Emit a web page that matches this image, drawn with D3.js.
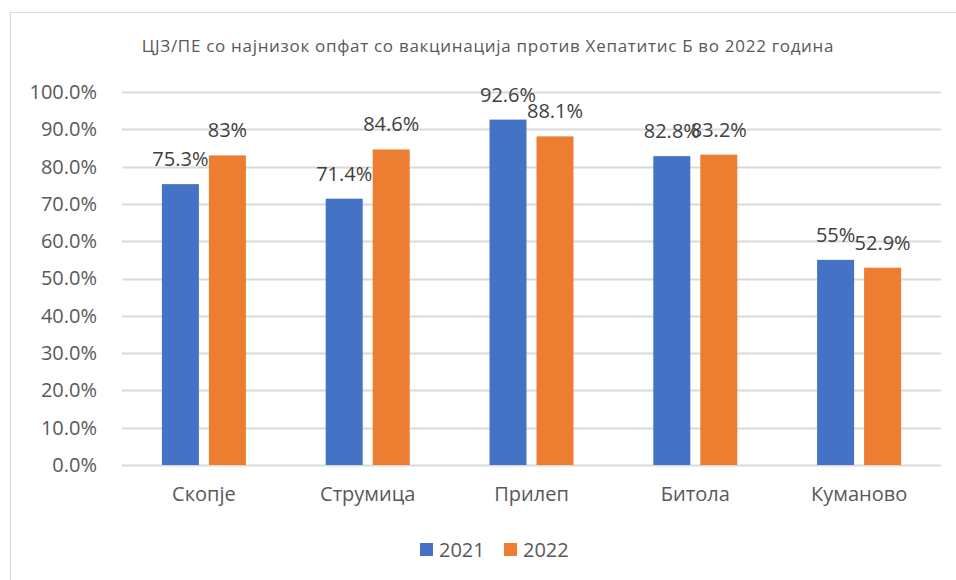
<!DOCTYPE html>
<html>
<head>
<meta charset="utf-8">
<script src="https://cdn.jsdelivr.net/npm/d3@7"></script>
<style>
  body { margin: 0; background: #fff; }
  text { font-family: "Open Sans", "Noto Sans", sans-serif; }
</style>
</head>
<body>
<svg id="chart" width="956" height="580"></svg>
<script>
const categories = ["Скопје", "Струмица", "Прилеп", "Битола", "Куманово"];
const series = ["2021", "2022"];
const values2021 = [75.3, 71.4, 92.6, 82.8, 55];
const values2022 = [83, 84.6, 88.1, 83.2, 52.9];
const yTicks = [0, 10, 20, 30, 40, 50, 60, 70, 80, 90, 100];
const colors = ["#4472c4", "#ed7d31"];
const title = "ЦЈЗ/ПЕ со најнизок опфат со вакцинација против Хепатитис Б во 2022 година";

const svg = d3.select("#chart");

// chart frame
svg.append("rect")
  .attr("x", 10.5).attr("y", 12.5)
  .attr("width", 960).attr("height", 600)
  .attr("fill", "#fff")
  .attr("stroke", "#d9d9d9");

svg.append("text")
  .attr("x", 488).attr("y", 52)
  .attr("text-anchor", "middle")
  .attr("font-size", "17px")
  .attr("letter-spacing", "0.7px")
  .attr("fill", "#595959")
  .text(title);

const x = d3.scaleBand().domain(categories).range([122, 941]);
const y = d3.scaleLinear().domain([0, 100]).range([465, 92]);
const barW = 37, gap = 10;
const inner = d3.scaleBand().domain(series).range([0, barW * 2 + gap]).paddingInner(gap / (barW + gap));

// grid
svg.append("g")
  .selectAll("line")
  .data(yTicks)
  .join("line")
  .attr("x1", 122).attr("x2", 941)
  .attr("y1", d => Math.round(y(d)) + 0.5)
  .attr("y2", d => Math.round(y(d)) + 0.5)
  .attr("stroke", "#d9d9d9")
  .attr("stroke-width", 2);

// y axis labels
const yAxis = svg.append("g")
  .attr("transform", "translate(100,0)")
  .call(d3.axisLeft(y).tickValues(yTicks).tickSize(0).tickFormat(d => d.toFixed(1) + "%"));
yAxis.select(".domain").remove();
yAxis.selectAll("text")
  .attr("font-size", "20px")
  .attr("fill", "#595959")
  .attr("font-family", "\"Open Sans\", \"Noto Sans\", sans-serif");

// x axis labels
const xAxis = svg.append("g")
  .attr("transform", "translate(0,484)")
  .call(d3.axisBottom(x).tickSize(0));
xAxis.select(".domain").remove();
xAxis.selectAll("text")
  .attr("font-size", "20px")
  .attr("fill", "#595959")
  .attr("font-family", "\"Open Sans\", \"Noto Sans\", sans-serif");

const rows = categories.map((c, i) => ({
  cat: c,
  vals: [
    { s: series[0], v: values2021[i] },
    { s: series[1], v: values2022[i] }
  ]
}));

const groups = svg.append("g")
  .selectAll("g")
  .data(rows)
  .join("g")
  .attr("transform", d => `translate(${x(d.cat) + (x.bandwidth() - (barW * 2 + gap)) / 2},0)`);

groups.selectAll("rect")
  .data(d => d.vals)
  .join("rect")
  .attr("x", d => inner(d.s))
  .attr("width", inner.bandwidth())
  .attr("y", d => y(d.v))
  .attr("height", d => y(0) - y(d.v))
  .attr("fill", (d, i) => colors[i]);

groups.selectAll("text")
  .data(d => d.vals)
  .join("text")
  .attr("x", d => inner(d.s) + inner.bandwidth() / 2)
  .attr("y", d => y(d.v) - 25)
  .attr("dy", "0.35em")
  .attr("text-anchor", "middle")
  .attr("font-size", "20px")
  .attr("fill", "#404040")
  .text(d => d.v + "%");

// legend
const legend = svg.append("g")
  .selectAll("g")
  .data(series)
  .join("g")
  .attr("transform", (d, i) => `translate(${420 + i * 84},543)`);
legend.append("rect")
  .attr("width", 13).attr("height", 13)
  .attr("fill", (d, i) => colors[i]);
legend.append("text")
  .attr("x", 19).attr("y", 6.5)
  .attr("dy", "0.35em")
  .attr("font-size", "20px")
  .attr("fill", "#595959")
  .text(d => d);
</script>
</body>
</html>
